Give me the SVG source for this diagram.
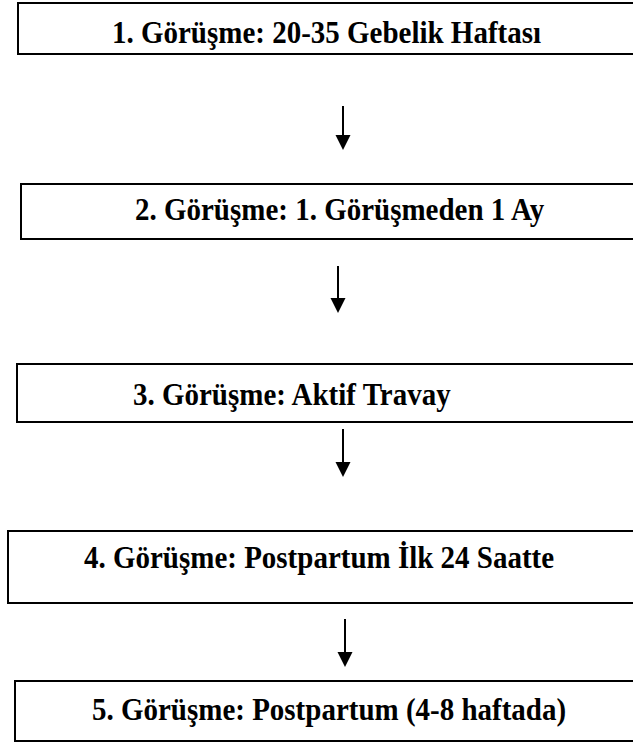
<svg xmlns="http://www.w3.org/2000/svg" width="633" height="742" viewBox="0 0 633 742">
  <defs>
    <style>
      .box { fill: #ffffff; stroke: #000000; stroke-width: 2; }
      .lbl { font-family: "Liberation Serif", "Times New Roman", serif; font-weight: 700; font-size: 29px; fill: #000000; }
      .conn { stroke: #000000; stroke-width: 2; fill: none; marker-end: url(#arrow); }
    </style>
    <marker id="arrow" markerUnits="userSpaceOnUse" markerWidth="16" markerHeight="16" refX="0" refY="7.5" orient="auto">
      <path d="M0,0 L15,7.5 L0,15 Z" fill="#000000"/>
    </marker>
  </defs>
  <rect x="0" y="0" width="633" height="742" fill="#ffffff"/>

  <g id="node1">
    <rect class="box" x="18" y="3" width="640" height="51"/>
    <text class="lbl" transform="translate(112,43) scale(1,1.12)">1. Görüşme: 20-35 Gebelik Haftası</text>
  </g>
  <g id="node2">
    <rect class="box" x="21" y="184" width="640" height="55"/>
    <text class="lbl" transform="translate(135,220) scale(1,1.12)">2. Görüşme: 1. Görüşmeden 1 Ay</text>
  </g>
  <g id="node3">
    <rect class="box" x="17" y="364" width="640" height="58"/>
    <text class="lbl" transform="translate(133,405) scale(1,1.12)">3. Görüşme: Aktif Travay</text>
  </g>
  <g id="node4">
    <rect class="box" x="8" y="531" width="650" height="72"/>
    <text class="lbl" transform="translate(84,568) scale(1,1.12)">4. Görüşme: Postpartum İlk 24 Saatte</text>
  </g>
  <g id="node5">
    <rect class="box" x="15" y="681" width="640" height="60"/>
    <text class="lbl" transform="translate(92,720) scale(1,1.12)">5. Görüşme: Postpartum (4-8 haftada)</text>
  </g>

  <g id="connectors">
    <line class="conn" x1="343" y1="106" x2="343" y2="135"/>
    <line class="conn" x1="338" y1="266" x2="338" y2="298"/>
    <line class="conn" x1="343" y1="429" x2="343" y2="462"/>
    <line class="conn" x1="345" y1="619" x2="345" y2="652"/>
  </g>
</svg>
